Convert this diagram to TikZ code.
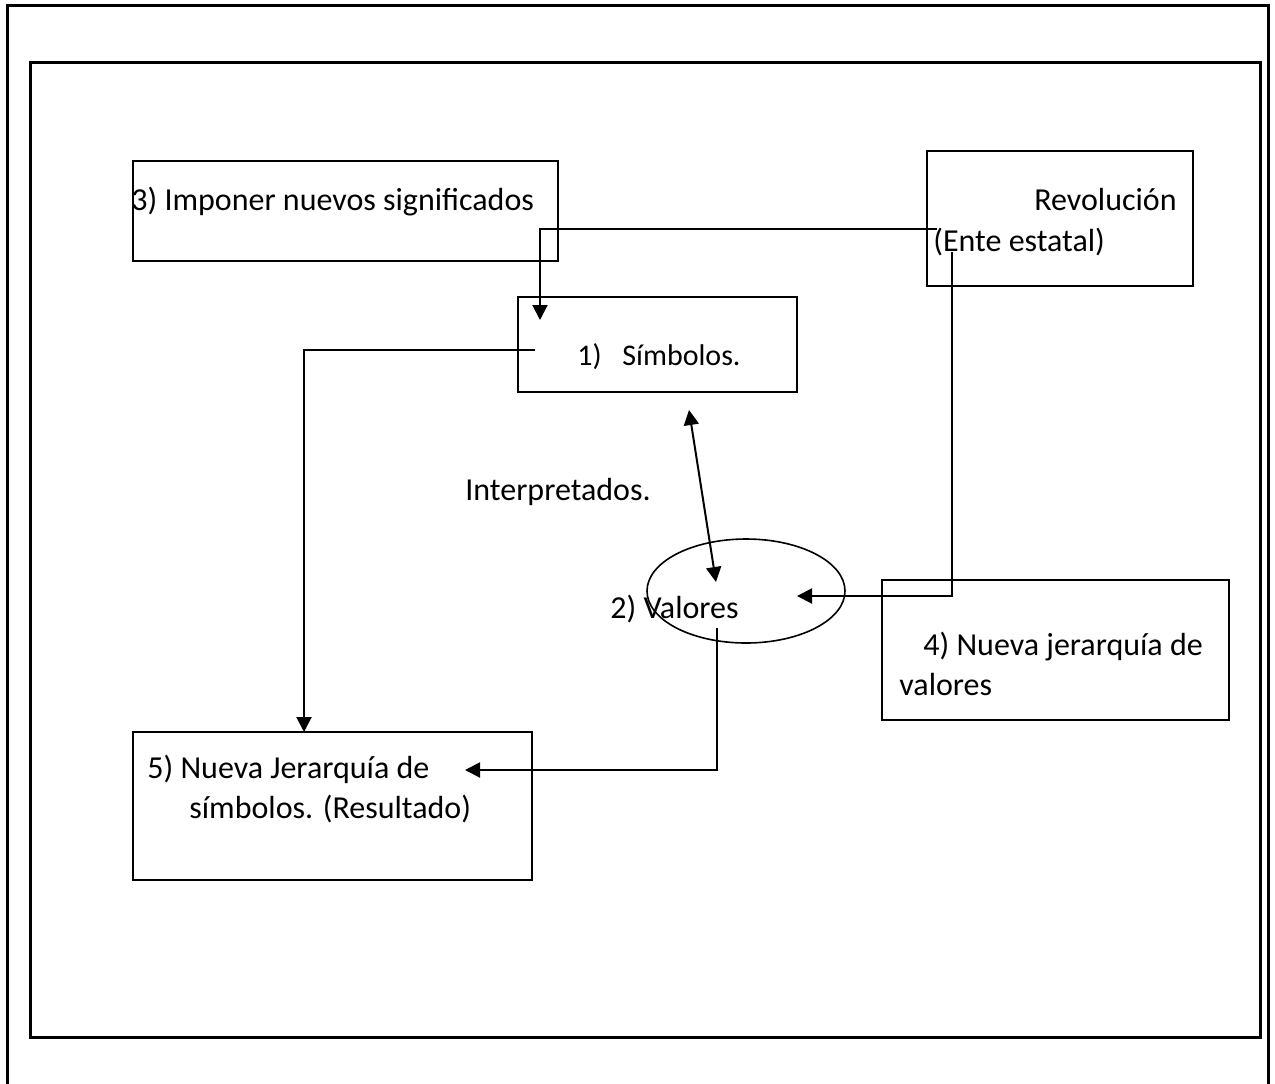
\documentclass[tikz,border=0pt]{standalone}
\usepackage{fontspec}
\setmainfont{Carlito}
\usetikzlibrary{arrows.meta,shapes.geometric}
\begin{document}
\begin{tikzpicture}[x=0.5pt,y=-0.5pt,
  frame/.style={draw,line width=1.5pt},
  boxnode/.style={draw,line width=1pt,anchor=north west,inner sep=0pt,outer sep=0pt},
  txt/.style={inner sep=0pt,anchor=base west,font=\fontsize{16pt}{20pt}\selectfont},
  conn/.style={line width=1pt,-{Triangle[length=7.5pt,width=7.5pt]}},
  dconn/.style={line width=1pt,{Triangle[length=7.5pt,width=7.5pt]}-{Triangle[length=7.5pt,width=7.5pt]}}]
\useasboundingbox (0,0) rectangle (1275,1083);
\clip (0,0) rectangle (1275,1083);
% frames
\draw[frame] (7,5) rectangle (1268,1120);
\draw[frame] (30,62) rectangle (1260,1037);
% boxes
\node[boxnode,minimum width=212.5pt,minimum height=50pt] (box3) at (133,161) {};
\node[boxnode,minimum width=133pt,minimum height=67.5pt] (rev) at (927,151) {};
\node[boxnode,minimum width=139.5pt,minimum height=47.5pt] (sim) at (518,297) {};
\node[boxnode,minimum width=173.5pt,minimum height=70pt] (box4) at (882,580) {};
\node[boxnode,minimum width=199.5pt,minimum height=74pt] (box5) at (133,732) {};
\node[draw,ellipse,line width=0.8pt,minimum width=99pt,minimum height=52pt,inner sep=0pt] (val) at (746,591) {};
% texts
\node[txt] (t3) at (131,210) {3) Imponer nuevos significados};
\node[txt,anchor=base east] (trev) at (1177,210) {Revolución};
\node[txt] (tente) at (933,251) {(Ente estatal)};
\node[txt,font=\fontsize{15pt}{20pt}\selectfont] (t1) at (577,365) {1)};
\node[txt,font=\fontsize{15pt}{20pt}\selectfont] (tsim) at (622,365) {Símbolos.};
\node[txt] (tint) at (465,500) {Interpretados.};
\node[txt] (tval) at (610,618) {2) Valores};
\node[txt] (t4a) at (923,655) {4) Nueva jerarquía de};
\node[txt] (t4b) at (899,695) {valores};
\node[txt] (t5a) at (147,778) {5) Nueva Jerarquía de};
\node[txt] (t5b) at (189,818) {símbolos. (Resultado)};
% connector end points
\coordinate (c1s) at (937,229);
\coordinate (c1e) at (540,320);
\coordinate (c2s) at (952,252);
\coordinate (c2e) at (797,596);
\coordinate (c3s) at (689,410);
\coordinate (c3e) at (716,582);
\coordinate (c4s) at (535,350);
\coordinate (c4e) at (304,732);
\coordinate (c5s) at (717,628);
\coordinate (c5e) at (465,770);
% connectors
\draw[conn] (c1s) -| (c1e);
\draw[conn] (c2s) |- (c2e);
\draw[dconn] (c3s) -- (c3e);
\draw[conn] (c4s) -| (c4e);
\draw[conn] (c5s) |- (c5e);
\end{tikzpicture}
\end{document}
